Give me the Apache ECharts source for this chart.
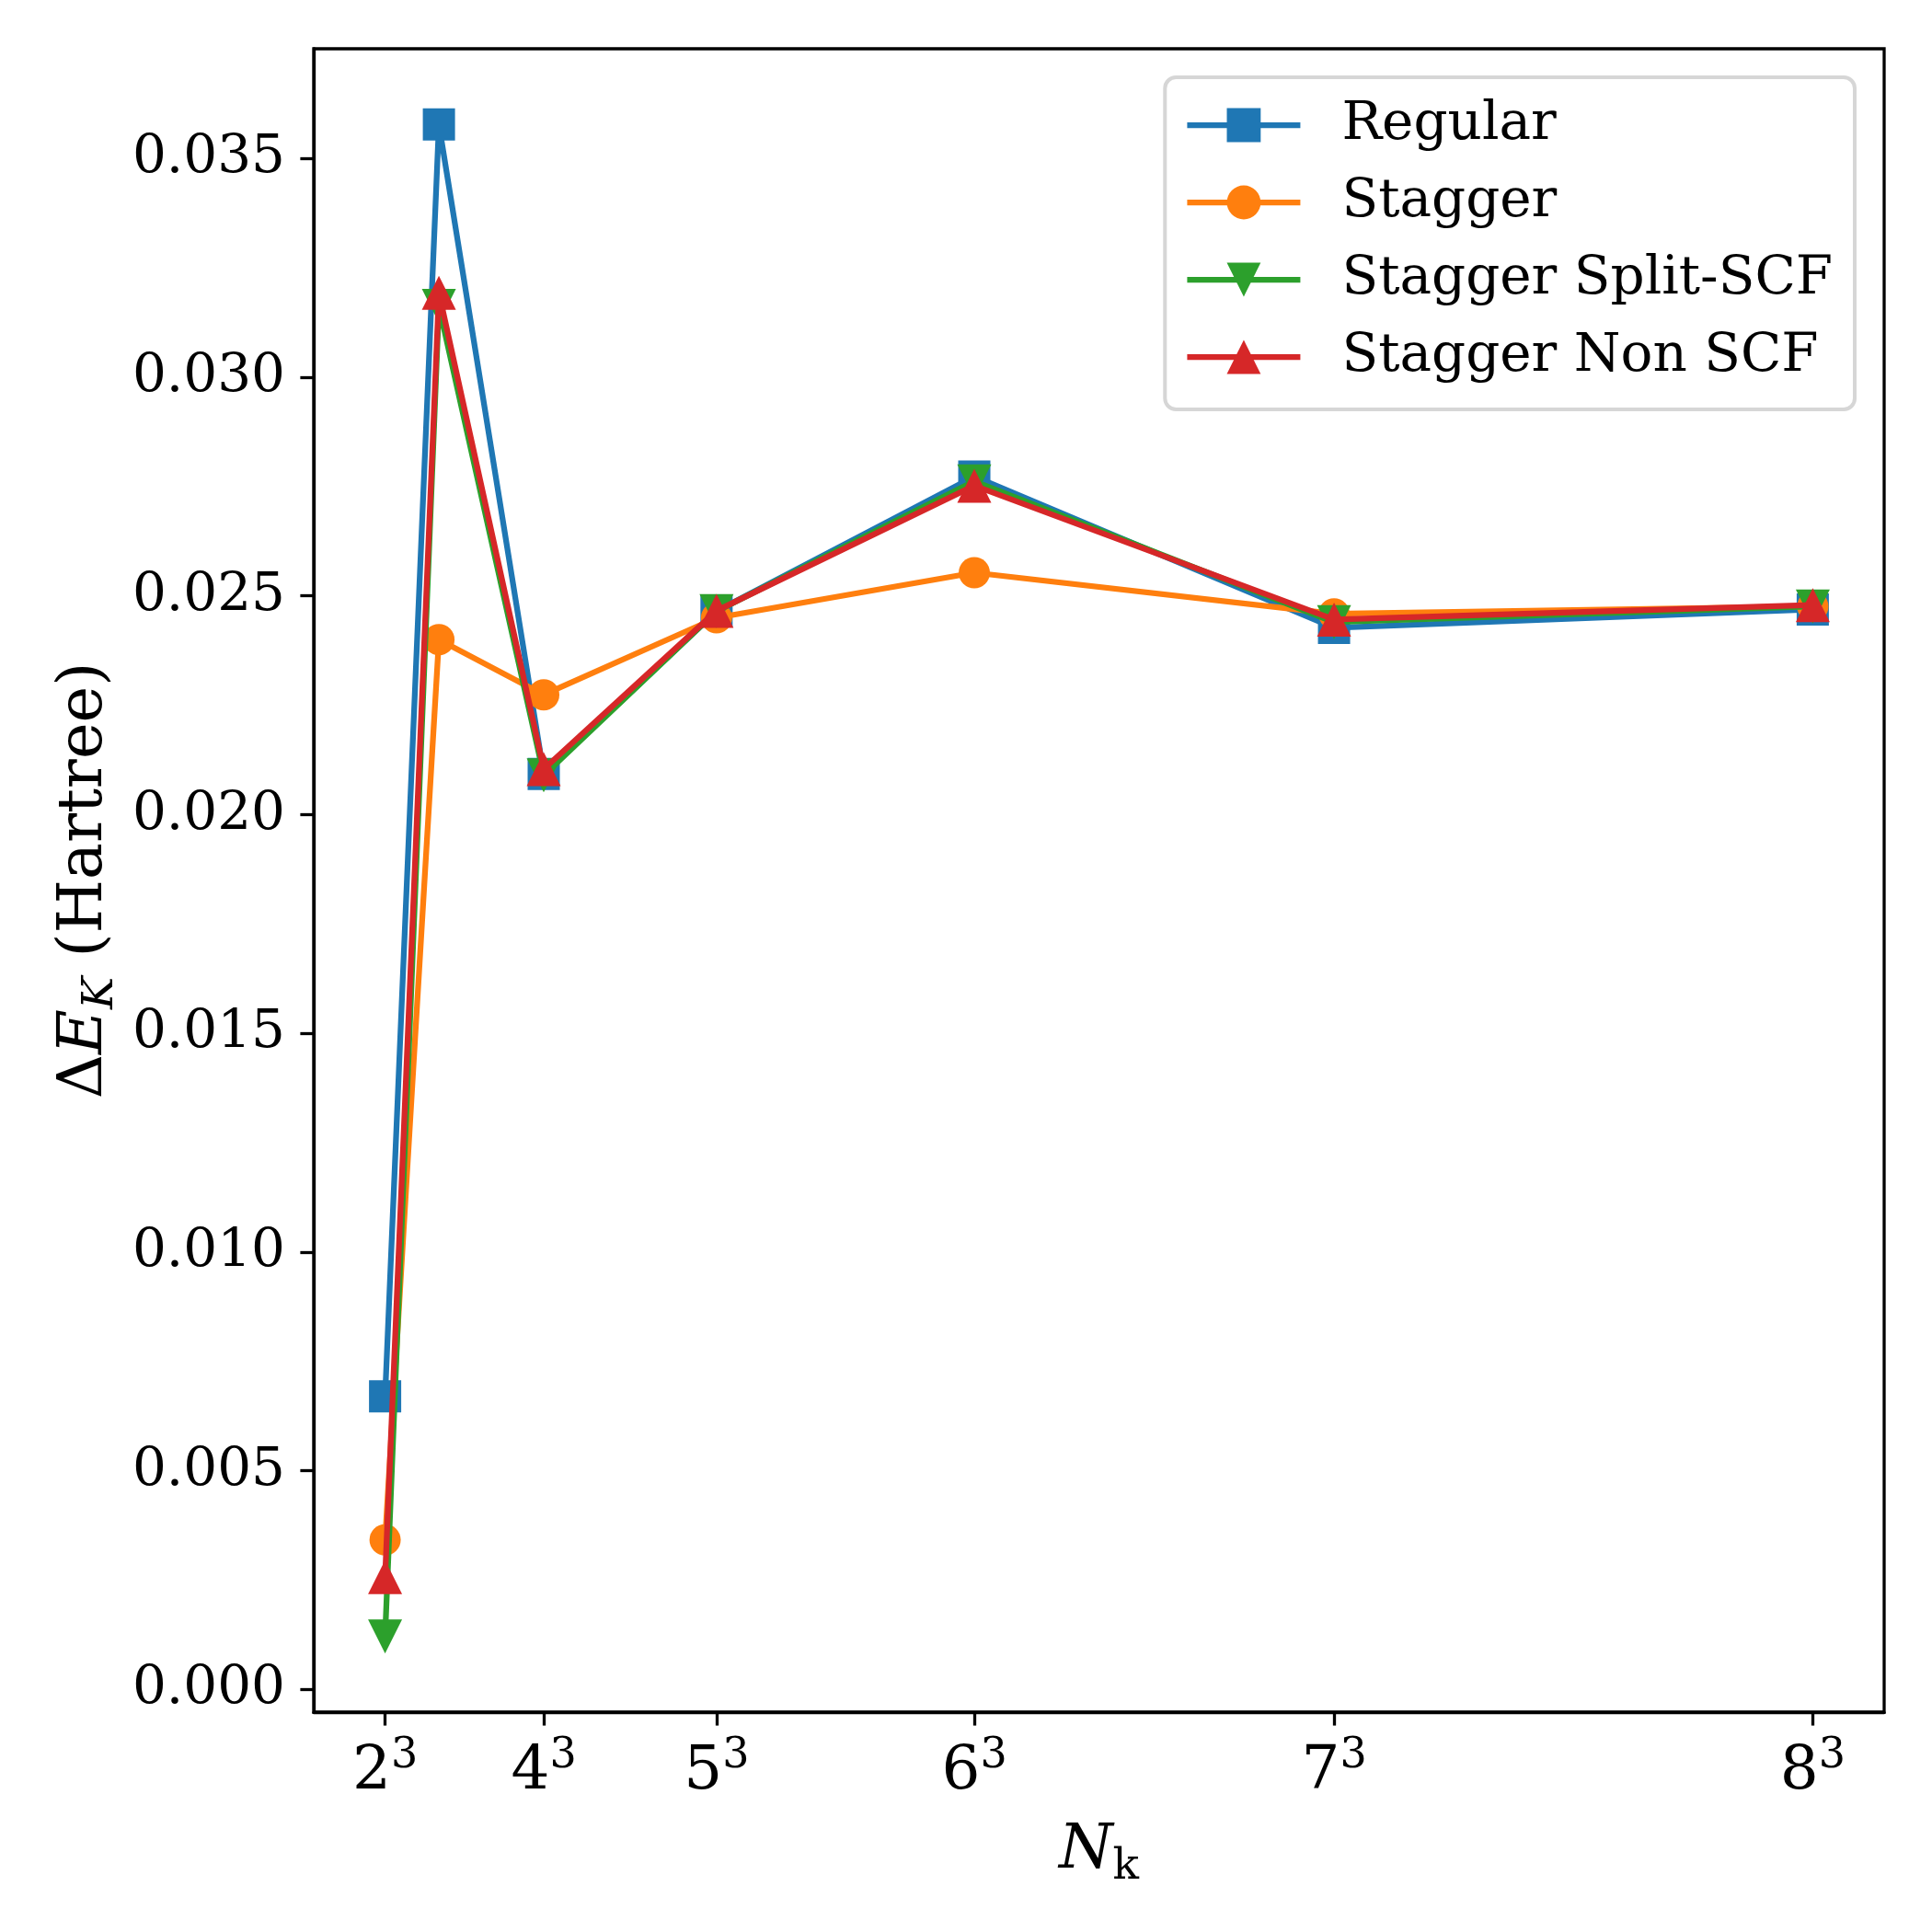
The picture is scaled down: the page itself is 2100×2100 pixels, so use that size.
<!DOCTYPE html>
<html>
<head>
<meta charset="utf-8">
<script src="https://cdn.jsdelivr.net/npm/echarts@6/dist/echarts.min.js"></script>
<style>
html,body{margin:0;padding:0;background:#fff;}
#chart{width:2100px;height:2100px;}
</style>
</head>
<body>
<div id="chart"></div>
<script>
// ---- data ----
const nk = [8, 27, 64, 125, 216, 343, 512];
const regular      = [0.00670, 0.03578, 0.02093, 0.02465, 0.02773, 0.02427, 0.02469];
const stagger      = [0.00342, 0.02400, 0.02274, 0.02450, 0.02553, 0.02459, 0.02476];
const staggerSplit = [0.00121, 0.03163, 0.02090, 0.02465, 0.02762, 0.02440, 0.02476];
const staggerNon   = [0.00257, 0.03193, 0.02104, 0.02466, 0.02752, 0.02446, 0.02479];
const seriesNames  = ['Regular', 'Stagger', 'Stagger Split-SCF', 'Stagger Non SCF'];
const xTickValues  = [8, 64, 125, 216, 343, 512];
const xTickBases   = ['2', '4', '5', '6', '7', '8'];
const yTickValues  = [0, 0.005, 0.010, 0.015, 0.020, 0.025, 0.030, 0.035];

// ---- styles ----
const FONT = 'DejaVu Serif';
const colors = ['#1f77b4', '#ff7f0e', '#2ca02c', '#d62728'];
const LW = 6.25;

function pairs(ys) { return nk.map((x, i) => [x, ys[i]]); }

const allY = regular.concat(stagger, staggerSplit, staggerNon);
const dMin = Math.min.apply(null, allY), dMax = Math.max.apply(null, allY);
const yPad = 0.05 * (dMax - dMin);
const xPad = 0.05 * (nk[nk.length - 1] - nk[0]);

const chart = echarts.init(document.getElementById('chart'), null, {renderer: 'canvas'});

const seriesDefs = [
  {data: regular, symbol: 'rect', size: 35, rot: 0},
  {data: stagger, symbol: 'circle', size: 34, rot: 0},
  {data: staggerSplit, symbol: 'triangle', size: 37, rot: 180},
  {data: staggerNon, symbol: 'triangle', size: 37, rot: 0}
];

const option = {
  animation: false,
  backgroundColor: '#fff',
  grid: {
    left: 341, right: 52, top: 53, bottom: 239,
    show: true, borderColor: '#000', borderWidth: 3.3, backgroundColor: 'transparent'
  },
  legend: {
    orient: 'vertical',
    right: 84, top: 84,
    data: seriesNames,
    backgroundColor: 'rgba(255,255,255,0.8)',
    borderColor: '#d6d6d6', borderWidth: 4, borderRadius: 12,
    padding: [23, 24, 28, 21],
    itemWidth: 123, itemHeight: 46, itemGap: 26,
    align: 'left',
    lineStyle: {width: LW},
    textStyle: {fontFamily: FONT, fontSize: 58, color: '#000', padding: [0, 0, 0, 40]}
  },
  xAxis: {
    type: 'value',
    min: nk[0] - xPad, max: nk[nk.length - 1] + xPad,
    splitLine: {show: false},
    axisLine: {show: true, onZero: false, lineStyle: {color: '#000', width: 3.3}},
    axisTick: {show: true, customValues: xTickValues, length: 14.6, lineStyle: {color: '#000', width: 3.3}},
    axisLabel: {
      customValues: xTickValues,
      margin: 25,
      formatter: function (v) {
        const i = xTickValues.indexOf(v);
        return i < 0 ? '' : '{b|' + xTickBases[i] + '}{s|3}';
      },
      rich: {
        b: {fontFamily: FONT, fontSize: 66, lineHeight: 74, color: '#000', verticalAlign: 'bottom'},
        s: {fontFamily: FONT, fontSize: 46, lineHeight: 46, color: '#000', verticalAlign: 'top'}
      }
    },
    name: '{i|N}{sub|k}',
    nameLocation: 'middle',
    nameGap: 112,
    nameTextStyle: {
      rich: {
        i: {fontFamily: FONT, fontStyle: 'italic', fontSize: 67, lineHeight: 80, color: '#000', verticalAlign: 'middle'},
        sub: {fontFamily: FONT, fontSize: 47, lineHeight: 47, color: '#000', verticalAlign: 'bottom'}
      }
    }
  },
  yAxis: {
    type: 'value',
    min: dMin - yPad, max: dMax + yPad,
    splitLine: {show: false},
    axisLine: {show: true, onZero: false, lineStyle: {color: '#000', width: 3.3}},
    axisTick: {show: true, customValues: yTickValues, length: 14.6, lineStyle: {color: '#000', width: 3.3}},
    axisLabel: {
      customValues: yTickValues,
      margin: 31,
      fontFamily: FONT, fontSize: 58, color: '#000',
      formatter: function (v) { return v.toFixed(3); }
    },
    name: '{n|Δ}{i|E}{sub|K}{n| (Hartree)}',
    nameLocation: 'middle',
    nameRotate: 90,
    nameGap: 204,
    nameTextStyle: {
      rich: {
        n: {fontFamily: FONT, fontSize: 67, lineHeight: 80, color: '#000', verticalAlign: 'middle'},
        i: {fontFamily: FONT, fontStyle: 'italic', fontSize: 67, lineHeight: 80, color: '#000', verticalAlign: 'middle'},
        sub: {fontFamily: FONT, fontStyle: 'italic', fontSize: 47, lineHeight: 47, color: '#000', verticalAlign: 'bottom'}
      }
    }
  },
  series: seriesDefs.map((d, i) => ({
    name: seriesNames[i],
    type: 'line',
    z: 2 + i,
    data: pairs(d.data),
    symbol: d.symbol,
    symbolSize: d.size,
    symbolRotate: d.rot,
    showAllSymbol: true,
    lineStyle: {color: colors[i], width: LW},
    itemStyle: {color: colors[i], borderWidth: 0},
    emphasis: {disabled: true}
  }))
};
chart.setOption(option);
</script>
</body>
</html>
